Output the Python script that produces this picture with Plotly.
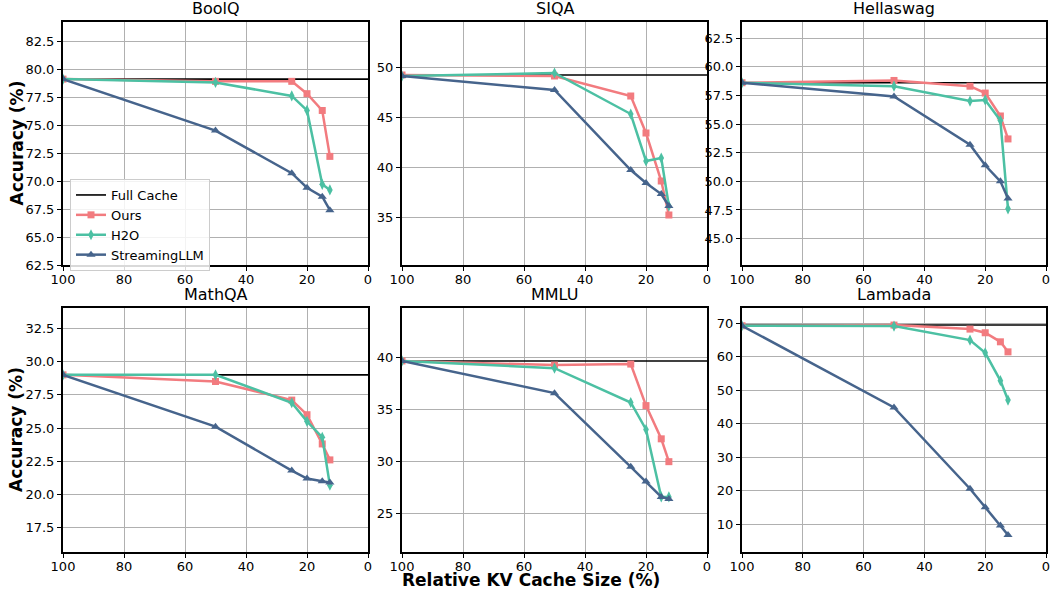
import plotly.graph_objects as go

kv_sizes = [100, 50, 25, 20, 15, 12.5]
datasets = ["BoolQ", "SIQA", "Hellaswag", "MathQA", "MMLU", "Lambada"]

full_cache = {"BoolQ": 79.1, "SIQA": 49.2, "Hellaswag": 58.6, "MathQA": 29.0, "MMLU": 39.7, "Lambada": 69.5}

ours = {
    "BoolQ": [79.1, 78.9, 78.9, 77.8, 76.3, 72.2],
    "SIQA": [49.2, 49.1, 47.1, 43.4, 38.6, 35.2],
    "Hellaswag": [58.6, 58.8, 58.3, 57.7, 55.7, 53.7],
    "MathQA": [29.0, 28.5, 27.1, 26.0, 23.8, 22.6],
    "MMLU": [39.7, 39.3, 39.4, 35.4, 32.2, 30.0],
    "Lambada": [69.3, 69.5, 68.3, 67.2, 64.5, 61.5],
}
h2o = {
    "BoolQ": [79.1, 78.8, 77.6, 76.3, 69.7, 69.2],
    "SIQA": [49.1, 49.4, 45.3, 40.6, 40.9, 36.1],
    "Hellaswag": [58.6, 58.3, 57.0, 57.1, 55.3, 47.6],
    "MathQA": [29.0, 29.0, 26.9, 25.5, 24.3, 20.7],
    "MMLU": [39.7, 39.0, 35.7, 33.1, 26.6, 26.6],
    "Lambada": [69.3, 69.2, 65.0, 61.2, 52.9, 47.1],
}
streaming = {
    "BoolQ": [79.1, 74.5, 70.7, 69.4, 68.6, 67.4],
    "SIQA": [49.1, 47.7, 39.7, 38.4, 37.3, 36.1],
    "Hellaswag": [58.6, 57.4, 53.2, 51.4, 50.0, 48.5],
    "MathQA": [29.0, 25.1, 21.8, 21.2, 21.0, 20.9],
    "MMLU": [39.7, 36.6, 29.5, 28.1, 26.6, 26.4],
    "Lambada": [69.3, 44.9, 20.6, 15.1, 9.6, 6.8],
}

y_ranges = {
    "BoolQ": [62.5, 84.2], "SIQA": [30.2, 54.5], "Hellaswag": [42.7, 63.9],
    "MathQA": [15.67, 34.03], "MMLU": [21.3, 44.8], "Lambada": [1.7, 74.6],
}
y_dticks = {"BoolQ": 2.5, "SIQA": 5, "Hellaswag": 2.5, "MathQA": 2.5, "MMLU": 5, "Lambada": 10}
y_fmt = {"BoolQ": ".1f", "SIQA": "d", "Hellaswag": ".1f", "MathQA": ".1f", "MMLU": "d", "Lambada": "d"}

W, H = 1052, 590
x_px = [(63, 368), (402, 707), (742, 1046)]
y_px = [(22, 265), (308, 552)]

C_OURS = "#F27B7F"
C_H2O = "#4CC0A3"
C_STR = "#46648C"
FONT = "DejaVu Sans"

fig = go.Figure()
annotations = []
for i, name in enumerate(datasets):
    r, c = divmod(i, 3)
    n = i + 1
    xa = "x" if n == 1 else f"x{n}"
    ya = "y" if n == 1 else f"y{n}"
    show = (i == 0)
    fig.add_trace(go.Scatter(x=[100, 0], y=[full_cache[name]] * 2, mode="lines",
                             line=dict(color="black", width=1.6), name="Full Cache",
                             showlegend=show, xaxis=xa, yaxis=ya))
    fig.add_trace(go.Scatter(x=kv_sizes, y=ours[name], mode="lines+markers",
                             line=dict(color=C_OURS, width=2.5),
                             marker=dict(symbol="square", size=7, color=C_OURS),
                             name="Ours", showlegend=show, xaxis=xa, yaxis=ya))
    fig.add_trace(go.Scatter(x=kv_sizes, y=h2o[name], mode="lines+markers",
                             line=dict(color=C_H2O, width=2.5),
                             marker=dict(symbol="diamond-tall", size=8, color=C_H2O),
                             name="H2O", showlegend=show, xaxis=xa, yaxis=ya))
    fig.add_trace(go.Scatter(x=kv_sizes, y=streaming[name], mode="lines+markers",
                             line=dict(color=C_STR, width=2.5),
                             marker=dict(symbol="triangle-up", size=8, color=C_STR),
                             name="StreamingLLM", showlegend=show, xaxis=xa, yaxis=ya))

    x0, x1 = x_px[c]
    y0, y1 = y_px[r]
    xdom = [x0 / W, x1 / W]
    ydom = [1 - y1 / H, 1 - y0 / H]
    axis_common = dict(showline=True, linecolor="black", linewidth=2, mirror=True,
                       showgrid=True, gridcolor="#b0b0b0", gridwidth=1,
                       ticks="outside", ticklen=4, tickwidth=1.2, tickcolor="black",
                       tickfont=dict(family=FONT, size=13, color="black"), zeroline=False,
                       automargin=False)
    xkey = "xaxis" if n == 1 else f"xaxis{n}"
    ykey = "yaxis" if n == 1 else f"yaxis{n}"
    fig.layout[xkey] = dict(domain=xdom, range=[100, 0], tickmode="array",
                            tickvals=[100, 80, 60, 40, 20, 0], anchor=ya,
                            ticklabelstandoff=-3, **axis_common)
    fig.layout[ykey] = dict(domain=ydom, range=y_ranges[name], dtick=y_dticks[name],
                            tick0=0, tickformat=y_fmt[name], anchor=xa, **axis_common)
    annotations.append(dict(text=name, x=(x0 + x1) / 2 / W, y=1 - (y0 - 2) / H,
                            xref="paper", yref="paper", xanchor="center", yanchor="bottom",
                            showarrow=False, font=dict(family=FONT, size=16, color="black")))

for yc in [(22 + 265) / 2, (308 + 552) / 2]:
    annotations.append(dict(text="<b>Accuracy (%)</b>", x=16 / W, y=1 - yc / H, xref="paper",
                            yref="paper", textangle=-90, showarrow=False,
                            xanchor="center", yanchor="middle",
                            font=dict(family=FONT, size=17, color="black")))
annotations.append(dict(text="<b>Relative KV Cache Size (%)</b>", x=531 / W,
                        y=1 - 580 / H, xref="paper", yref="paper", showarrow=False,
                        xanchor="center", yanchor="middle",
                        font=dict(family=FONT, size=17, color="black")))

fig.update_layout(
    width=W, height=H, margin=dict(l=0, r=0, t=0, b=0, autoexpand=False),
    paper_bgcolor="white", plot_bgcolor="white",
    annotations=annotations,
    legend=dict(x=70 / W, y=1 - 179 / H, xanchor="left", yanchor="top",
                bgcolor="rgba(255,255,255,0.85)", bordercolor="#cccccc", borderwidth=1,
                font=dict(family=FONT, size=13, color="black"), itemwidth=30,
                tracegroupgap=0),
    font=dict(family=FONT),
)

fig.write_html("out.html", config={"displayModeBar": False},
               post_script="document.body.style.margin='0';")
